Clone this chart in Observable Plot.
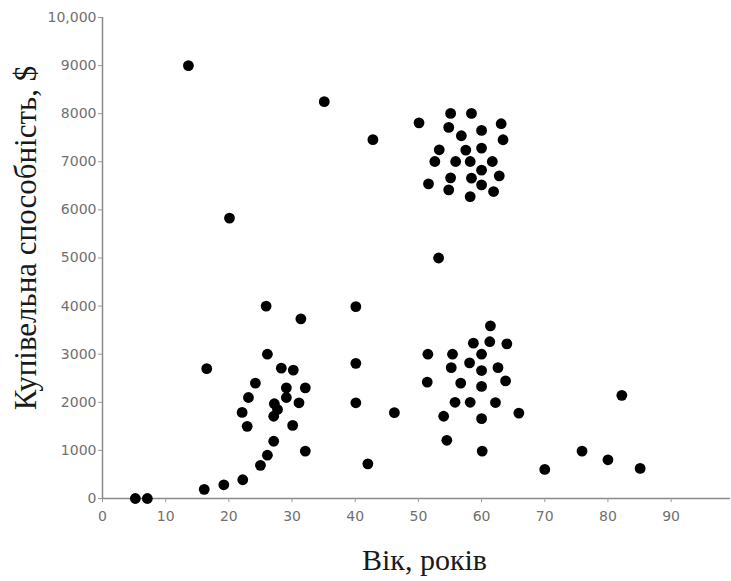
<!DOCTYPE html>
<html>
<head>
<meta charset="utf-8">
<script src="https://cdn.jsdelivr.net/npm/d3@7"></script>
<script src="https://cdn.jsdelivr.net/npm/@observablehq/plot@0.6"></script>
<style>
  html, body { margin: 0; padding: 0; background: #fff; }
</style>
</head>
<body>
<div id="chart"></div>
<script>
const age = [
  5.2, 7.1, 16.1, 19.2, 22.2,
  13.6, 20.1, 35.1, 42.8, 16.5,
  25.9, 31.4, 26.1, 28.3, 30.2, 24.2, 29.1, 32.1, 23.1, 29.1, 27.2, 31.1, 27.7, 22.1, 27.1, 22.9, 30.1, 27.1, 32.1, 26.1, 25.0,
  40.1, 40.1, 40.1, 46.2, 42.0,
  53.2, 50.1,
  55.1, 58.4, 54.8, 63.1, 56.8, 60.0, 63.4, 53.3, 57.5, 60.0, 52.6, 55.9, 58.2, 61.7, 60.0, 55.1, 58.4, 62.8, 51.6, 60.0, 54.8, 61.9, 58.2,
  61.4, 58.7, 61.3, 64.0, 51.5, 55.4, 60.0, 58.1, 55.2, 60.0, 62.6, 51.4, 56.7, 60.0, 63.8, 55.8, 58.2, 62.2, 54.0, 60.0, 65.9, 54.5, 60.1,
  70.0, 75.9, 80.0, 82.2, 85.1
];
const power = [
  0, 0, 190, 285, 390,
  9000, 5830, 8250, 7460, 2700,
  4000, 3735, 3000, 2710, 2670, 2400, 2300, 2300, 2100, 2100, 1970, 1990, 1850, 1790, 1710, 1500, 1520, 1190, 985, 900, 690,
  3990, 2810, 1990, 1785, 720,
  5000, 7810,
  8006, 8006, 7715, 7792, 7542, 7653, 7458, 7250, 7243, 7285, 7006, 7006, 7006, 7006, 6826, 6667, 6660, 6708, 6542, 6521, 6417, 6382, 6277,
  3590, 3230, 3260, 3215, 3000, 3000, 3000, 2820, 2720, 2660, 2720, 2420, 2400, 2330, 2445, 2000, 2000, 1995, 1710, 1660, 1775, 1210, 985,
  605, 985, 805, 2145, 625
];
const xTicks = [0, 10, 20, 30, 40, 50, 60, 70, 80, 90];
const xTickLabels = ["0", "10", "20", "30", "40", "50", "60", "70", "80", "90"];
const yTicks = [0, 1000, 2000, 3000, 4000, 5000, 6000, 7000, 8000, 9000, 10000];
const yTickLabels = ["0", "1000", "2000", "3000", "4000", "5000", "6000", "7000", "8000", "9000", "10,000"];
const xTitle = "Вік, років";
const yTitle = "Купівельна способність, $";

const points = age.map((a, i) => ({age: a, power: power[i]}));

const chart = Plot.plot({
  width: 731,
  height: 581,
  marginLeft: 102,
  marginRight: 1,
  marginTop: 17,
  marginBottom: 83,
  style: {fontFamily: "DejaVu Sans", background: "#fff"},
  x: {domain: [0, 99.4]},
  y: {domain: [0, 10000]},
  marks: [
    Plot.ruleX([0], {stroke: "#8a8a8a", strokeWidth: 1.5}),
    Plot.ruleY([0], {stroke: "#8a8a8a", strokeWidth: 1.5}),
    Plot.axisX({
      ticks: xTicks,
      tickFormat: (d) => xTickLabels[xTicks.indexOf(d)],
      tickSize: 4,
      tickPadding: 9,
      fontSize: 14,
      stroke: "#9a9a9a",
      fill: "#707070",
      label: null
    }),
    Plot.axisY({
      ticks: yTicks,
      tickFormat: (d) => yTickLabels[yTicks.indexOf(d)],
      tickSize: 4,
      tickPadding: 2,
      fontSize: 14,
      stroke: "#9a9a9a",
      fill: "#707070",
      label: null
    }),
    Plot.dot(points, {x: "age", y: "power", r: 5.4, fill: "#000", stroke: "none"}),
    Plot.text([xTitle], {
      frameAnchor: "bottom",
      dy: 71,
      dx: 8,
      fontSize: 30,
      fontFamily: "Liberation Serif",
      fill: "#1a1a1a"
    }),
    Plot.text([yTitle], {
      frameAnchor: "left",
      textAnchor: "middle",
      rotate: -90,
      dx: -76,
      dy: -20,
      fontSize: 31,
      fontFamily: "Liberation Serif",
      fill: "#1a1a1a"
    })
  ]
});
document.getElementById("chart").appendChild(chart);
</script>
</body>
</html>
